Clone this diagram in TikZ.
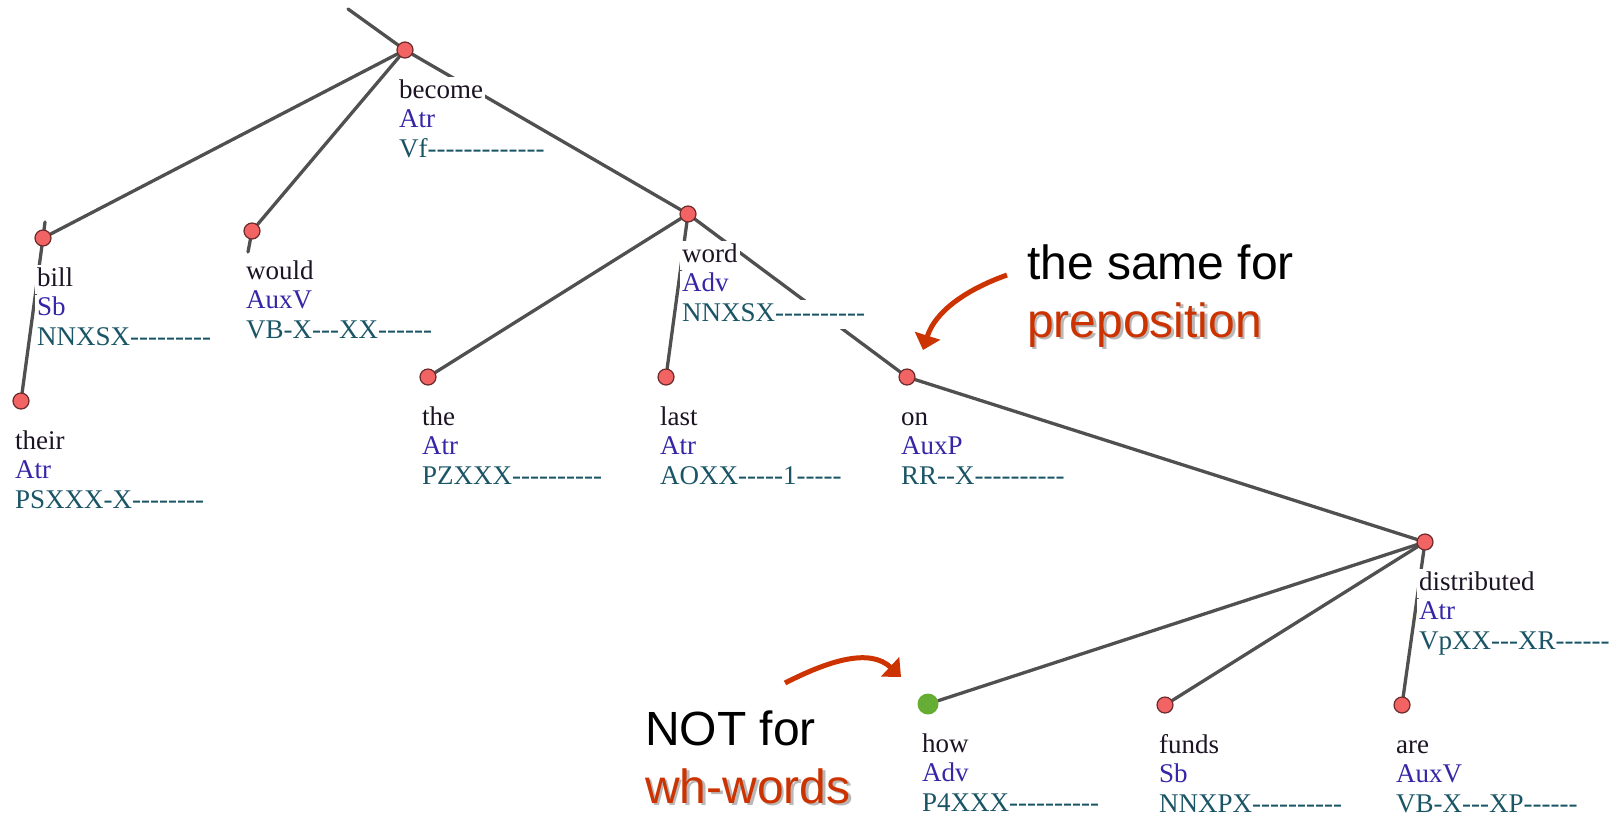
\documentclass[tikz,border=0pt]{standalone}
\usepackage{fontspec}
\setmainfont{Liberation Serif}[Ligatures=TeXOff]
\newfontfamily\annfont{Liberation Sans}
\usetikzlibrary{arrows.meta}

\pgfdeclarelayer{edges}
\pgfsetlayers{edges,main}

\definecolor{edgegray}{HTML}{505050}
\definecolor{nodefill}{HTML}{F26464}
\definecolor{nodedraw}{HTML}{6A2A2A}
\definecolor{whgreen}{HTML}{66AD33}
\definecolor{wordcol}{HTML}{1C1424}
\definecolor{afuncol}{HTML}{3526A8}
\definecolor{tagcol}{HTML}{1A5566}
\definecolor{annred}{HTML}{CC3300}

\tikzset{
  tnode/.style={circle, fill=nodefill, draw=nodedraw, line width=1.2pt,
    minimum size=16pt, inner sep=0pt},
  whnode/.style={circle, fill=whgreen, minimum size=21pt, inner sep=0pt},
  treeedge/.style={draw=edgegray, line width=3.3pt, line cap=round},
  lab/.style={anchor=base west, fill=white, inner xsep=2pt, inner ysep=0pt,
    text height=21pt, text depth=8pt, font=\fontsize{27}{30}\selectfont},
  lword/.style={lab, text=wordcol},
  lafun/.style={lab, text=afuncol},
  ltag/.style={lab, text=tagcol},
  ann/.style={anchor=base west, inner sep=0pt,
    font=\annfont\fontsize{48}{56}\selectfont},
  anntext/.style={ann, text=black},
  annhl/.style={ann, text=annred},
  annshadow/.style={ann, text=black, opacity=0.28},
  callout/.style={draw=annred, line width=5pt,
    -{Triangle[length=15pt,width=26pt]}},
}

% word form, analytical function and morphological tag under a tree node
\newcommand\treelab[4]{%
  \node[lword] (#1w) at ([shift={(-8,48)}]#1.center) {#2};
  \node[lafun] (#1a) at ([shift={(-8,77.5)}]#1.center) {#3};
  \node[ltag]  (#1t) at ([shift={(-8,107)}]#1.center) {#4};
}

\begin{document}
\begin{tikzpicture}[x=1pt, y=-1pt]
\useasboundingbox (0,0) rectangle (1621,815);

% tree nodes
\node[tnode] (become) at (405,50) {};
\node[tnode] (bill)   at (43,238) {};
\node[tnode] (would)  at (252,231) {};
\node[tnode] (their)  at (21,401) {};
\node[tnode] (word)   at (688,214) {};
\node[tnode] (the)    at (428,377) {};
\node[tnode] (last)   at (666,377) {};
\node[tnode] (on)     at (907,377) {};
\node[tnode] (distr)  at (1425,542) {};
\node[whnode] (how)   at (928,704) {};
\node[tnode] (funds)  at (1165,705) {};
\node[tnode] (are)    at (1402,705) {};

\coordinate (up)       at (348,9);
\coordinate (billup)   at (45,222);
\coordinate (woulddn)  at (248,252);

% edges
\begin{pgfonlayer}{edges}
  \draw[treeedge] (up) -- (become);
  \draw[treeedge] (become) -- (bill);
  \draw[treeedge] (become) -- (would);
  \draw[treeedge] (become) -- (word);
  \draw[treeedge] (billup) -- (bill) -- (their);
  \draw[treeedge] (would) -- (woulddn);
  \draw[treeedge] (word) -- (the);
  \draw[treeedge] (word) -- (last);
  \draw[treeedge] (word) -- (on);
  \draw[treeedge] (on) -- (distr);
  \draw[treeedge] (distr) -- (how);
  \draw[treeedge] (distr) -- (funds);
  \draw[treeedge] (distr) -- (are);
\end{pgfonlayer}

% node labels
\treelab{become}{become}{Atr}{Vf-------------}
\treelab{bill}{bill}{Sb}{NNXSX---------}
\treelab{would}{would}{AuxV}{VB-X---XX------}
\treelab{their}{their}{Atr}{PSXXX-X--------}
\treelab{word}{word}{Adv}{NNXSX----------}
\treelab{the}{the}{Atr}{PZXXX----------}
\treelab{last}{last}{Atr}{AOXX-----1-----}
\treelab{on}{on}{AuxP}{RR--X----------}
\treelab{distr}{distributed}{Atr}{VpXX---XR------}
\treelab{how}{how}{Adv}{P4XXX----------}
\treelab{funds}{funds}{Sb}{NNXPX----------}
\treelab{are}{are}{AuxV}{VB-X---XP------}

% annotations
\node[anntext]   (same)   at (1027,279) {the same for};
\node[annshadow] (prepsh) at (1029.5,339.5) {preposition};
\node[annhl]     (prep)   at (1027,337) {preposition};

\node[anntext]   (notfor) at (645,745) {NOT for};
\node[annshadow] (whsh)   at (647.5,805.5) {wh-words};
\node[annhl]     (wh)     at (645,803) {wh-words};

\coordinate (c1s) at (1007,275);
\coordinate (c1e) at (923,350);
\coordinate (c2s) at (785,683);
\coordinate (c2e) at (901,677);
\draw[callout] (c1s) .. controls (965,290) and (935,312) .. (c1e);
\draw[callout] (c2s) .. controls (830,660) and (870,648) .. (c2e);
\end{tikzpicture}
\end{document}
